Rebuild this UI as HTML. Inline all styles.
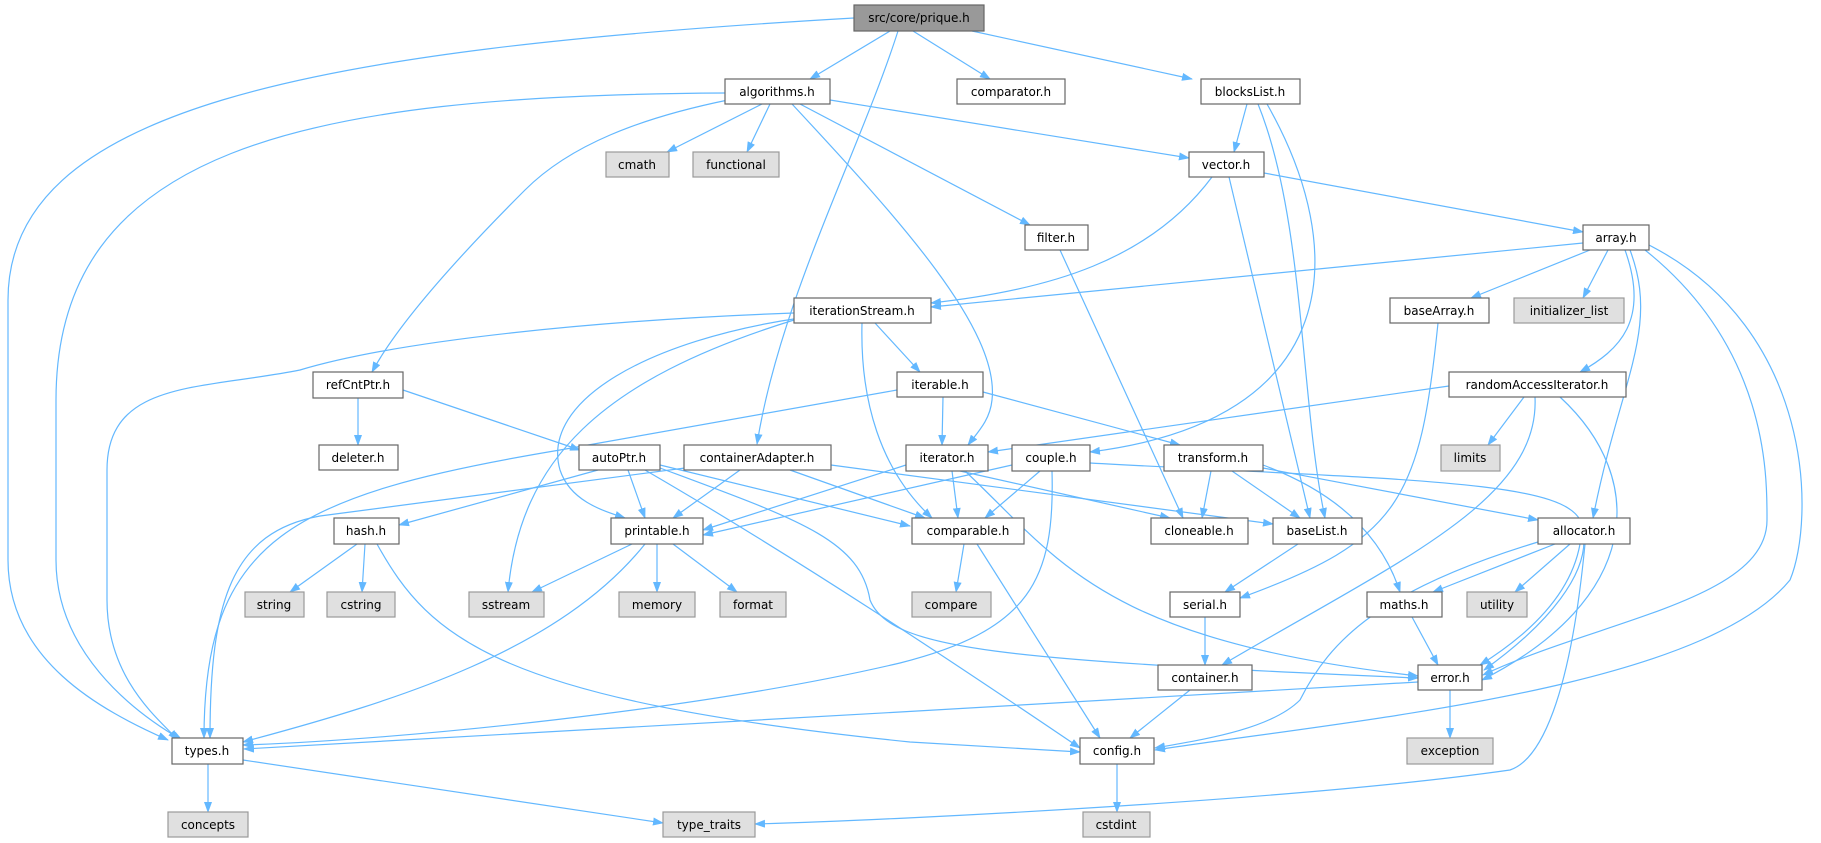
<!DOCTYPE html>
<html><head><meta charset="utf-8"><style>
html,body{margin:0;padding:0;background:#fff;}
svg{display:block;}
text{font-family:"DejaVu Sans","Liberation Sans",sans-serif;font-size:12px;fill:#000;text-anchor:middle;}
.e{fill:none;stroke:#63b8ff;stroke-width:1.2;marker-end:url(#a);}
.n rect{fill:#fff;stroke:#666;stroke-width:1.2;}
.g rect{fill:#e0e0e0;stroke:#999;stroke-width:1.2;}
.r rect{fill:#999;stroke:#666;stroke-width:1.2;}
</style></head><body>
<svg width="1821" height="843" viewBox="0 0 1821 843" xmlns="http://www.w3.org/2000/svg">
<defs><marker id="a" markerWidth="11" markerHeight="8" refX="10" refY="4" orient="auto" markerUnits="userSpaceOnUse"><path d="M0,0 L11,4 L0,8 z" fill="#63b8ff"/></marker></defs>
<g>
<path class="e" d="M854,18 C300,50 8,110 8,300 L8,560 C8,660 100,710 168,740"/>
<path class="e" d="M890,31 L810,79"/>
<path class="e" d="M898,31 C860,150 780,300 757,444"/>
<path class="e" d="M913,31 L990,79"/>
<path class="e" d="M972,31 L1192,79"/>
<path class="e" d="M725,93 C300,95 56,150 56,400 L56,560 C56,650 130,710 182,740"/>
<path class="e" d="M728,100 C640,118 570,145 525,190 C465,250 400,320 372,372"/>
<path class="e" d="M762,104 L667,152"/>
<path class="e" d="M770,104 L747,152"/>
<path class="e" d="M800,104 L1030,225"/>
<path class="e" d="M830,100 L1189,158"/>
<path class="e" d="M792,104 C900,220 1000,330 992,400 C990,420 978,432 968,445"/>
<path class="e" d="M1247,104 L1234,152"/>
<path class="e" d="M1258,104 C1305,220 1300,400 1325,518"/>
<path class="e" d="M1267,104 C1350,250 1345,420 1090,452"/>
<path class="e" d="M1212,177 C1150,260 1050,290 931,303"/>
<path class="e" d="M1229,177 L1310,518"/>
<path class="e" d="M1264,173 L1583,232"/>
<path class="e" d="M1060,250 L1183,518"/>
<path class="e" d="M1583,243 L931,307"/>
<path class="e" d="M1590,250 L1471,298"/>
<path class="e" d="M1608,250 L1583,298"/>
<path class="e" d="M1625,250 C1650,320 1620,350 1580,372"/>
<path class="e" d="M1630,250 C1660,330 1620,380 1593,518"/>
<path class="e" d="M1645,250 C1770,350 1767,480 1767,520 C1767,600 1600,620 1483,675"/>
<path class="e" d="M1649,245 C1815,330 1815,520 1790,580 C1700,690 1350,720 1155,750"/>
<path class="e" d="M794,313 C600,320 400,340 300,370 C200,390 107,380 107,470 L107,600 C107,680 160,720 178,740"/>
<path class="e" d="M794,320 C600,380 520,460 508,592"/>
<path class="e" d="M800,318 C650,340 540,400 560,470 C570,500 600,510 625,518"/>
<path class="e" d="M862,323 C860,400 880,470 932,518"/>
<path class="e" d="M875,323 L920,372"/>
<path class="e" d="M358,398 L358,445"/>
<path class="e" d="M403,390 L580,450"/>
<path class="e" d="M943,397 L942,445"/>
<path class="e" d="M983,392 L1180,445"/>
<path class="e" d="M897,390 L560,450 C290,495 204,540 204,738"/>
<path class="e" d="M1449,386 L988,452"/>
<path class="e" d="M1524,397 L1488,445"/>
<path class="e" d="M1535,397 C1540,500 1400,560 1222,665"/>
<path class="e" d="M1560,397 C1650,480 1640,600 1482,680"/>
<path class="e" d="M1438,323 C1420,500 1400,540 1240,598"/>
<path class="e" d="M598,470 L399,525"/>
<path class="e" d="M628,470 L645,518"/>
<path class="e" d="M660,465 L910,526"/>
<path class="e" d="M660,468 C800,520 860,540 870,600 C890,650 1000,660 1418,678"/>
<path class="e" d="M645,470 C800,560 950,660 1080,748"/>
<path class="e" d="M740,470 L673,518"/>
<path class="e" d="M790,470 L925,518"/>
<path class="e" d="M831,465 L1273,524"/>
<path class="e" d="M685,468 L320,516 C232,532 210,600 210,738"/>
<path class="e" d="M906,465 L703,530"/>
<path class="e" d="M952,471 L958,518"/>
<path class="e" d="M960,471 L1170,518"/>
<path class="e" d="M965,471 C1060,560 1100,640 1418,676"/>
<path class="e" d="M1012,465 L703,535"/>
<path class="e" d="M1040,471 L985,518"/>
<path class="e" d="M1052,471 C1055,580 1030,630 900,663 C700,710 400,740 243,745"/>
<path class="e" d="M1090,463 C1400,480 1560,480 1580,520 C1600,570 1540,630 1484,670"/>
<path class="e" d="M1211,471 L1202,518"/>
<path class="e" d="M1232,471 L1300,518"/>
<path class="e" d="M1263,465 C1330,490 1380,530 1400,592"/>
<path class="e" d="M1263,468 L1538,520"/>
<path class="e" d="M357,544 L290,592"/>
<path class="e" d="M365,544 L362,592"/>
<path class="e" d="M377,544 C430,640 500,700 910,742 L1080,752"/>
<path class="e" d="M632,544 L532,592"/>
<path class="e" d="M657,544 L657,592"/>
<path class="e" d="M673,544 L737,592"/>
<path class="e" d="M645,544 C560,650 400,700 243,742"/>
<path class="e" d="M964,544 L956,592"/>
<path class="e" d="M977,544 L1100,738"/>
<path class="e" d="M1298,544 L1225,592"/>
<path class="e" d="M1205,617 L1205,665"/>
<path class="e" d="M1190,690 L1130,738"/>
<path class="e" d="M1555,544 L1433,592"/>
<path class="e" d="M1570,544 L1515,592"/>
<path class="e" d="M1580,544 C1570,600 1520,640 1480,665"/>
<path class="e" d="M1538,542 C1380,590 1330,640 1300,700 C1270,730 1200,740 1155,748"/>
<path class="e" d="M1585,544 C1570,700 1540,760 1510,770 C1300,800 900,820 755,824"/>
<path class="e" d="M1412,617 L1438,665"/>
<path class="e" d="M1418,682 L900,712 C600,730 350,745 244,749"/>
<path class="e" d="M1450,690 L1450,738"/>
<path class="e" d="M1117,764 L1117,812"/>
<path class="e" d="M208,764 L208,812"/>
<path class="e" d="M243,760 L663,823"/>
</g>
<g class="r"><rect x="854" y="5" width="130" height="26"/><text x="919" y="22">src/core/prique.h</text></g>
<g class="n">
<rect x="725" y="79" width="105" height="25"/><text x="777" y="96">algorithms.h</text>
<rect x="957" y="79" width="108" height="25"/><text x="1011" y="96">comparator.h</text>
<rect x="1201" y="79" width="99" height="25"/><text x="1250" y="96">blocksList.h</text>
<rect x="1189" y="152" width="75" height="25"/><text x="1226" y="169">vector.h</text>
<rect x="1025" y="225" width="63" height="25"/><text x="1056" y="242">filter.h</text>
<rect x="1583" y="225" width="66" height="25"/><text x="1616" y="242">array.h</text>
<rect x="794" y="298" width="137" height="25"/><text x="862" y="315">iterationStream.h</text>
<rect x="1390" y="298" width="99" height="25"/><text x="1439" y="315">baseArray.h</text>
<rect x="313" y="372" width="90" height="26"/><text x="358" y="389">refCntPtr.h</text>
<rect x="897" y="372" width="86" height="25"/><text x="940" y="389">iterable.h</text>
<rect x="1449" y="372" width="177" height="25"/><text x="1537" y="389">randomAccessIterator.h</text>
<rect x="319" y="445" width="79" height="25"/><text x="358" y="462">deleter.h</text>
<rect x="579" y="445" width="81" height="25"/><text x="619" y="462">autoPtr.h</text>
<rect x="684" y="445" width="147" height="25"/><text x="757" y="462">containerAdapter.h</text>
<rect x="906" y="445" width="82" height="26"/><text x="947" y="462">iterator.h</text>
<rect x="1012" y="445" width="78" height="26"/><text x="1051" y="462">couple.h</text>
<rect x="1164" y="445" width="99" height="26"/><text x="1213" y="462">transform.h</text>
<rect x="334" y="518" width="65" height="26"/><text x="366" y="535">hash.h</text>
<rect x="611" y="518" width="92" height="26"/><text x="657" y="535">printable.h</text>
<rect x="912" y="518" width="112" height="26"/><text x="968" y="535">comparable.h</text>
<rect x="1151" y="518" width="97" height="26"/><text x="1199" y="535">cloneable.h</text>
<rect x="1273" y="518" width="89" height="26"/><text x="1317" y="535">baseList.h</text>
<rect x="1538" y="518" width="92" height="26"/><text x="1584" y="535">allocator.h</text>
<rect x="1170" y="592" width="70" height="25"/><text x="1205" y="609">serial.h</text>
<rect x="1367" y="592" width="75" height="25"/><text x="1404" y="609">maths.h</text>
<rect x="1158" y="665" width="94" height="25"/><text x="1205" y="682">container.h</text>
<rect x="1418" y="665" width="64" height="25"/><text x="1450" y="682">error.h</text>
<rect x="172" y="738" width="71" height="26"/><text x="207" y="755">types.h</text>
<rect x="1080" y="738" width="74" height="26"/><text x="1117" y="755">config.h</text>
</g>
<g class="g">
<rect x="606" y="152" width="63" height="25"/><text x="637" y="169">cmath</text>
<rect x="693" y="152" width="86" height="25"/><text x="736" y="169">functional</text>
<rect x="1514" y="298" width="110" height="25"/><text x="1569" y="315">initializer_list</text>
<rect x="1441" y="445" width="59" height="26"/><text x="1470" y="462">limits</text>
<rect x="245" y="592" width="59" height="25"/><text x="274" y="609">string</text>
<rect x="327" y="592" width="68" height="25"/><text x="361" y="609">cstring</text>
<rect x="469" y="592" width="75" height="25"/><text x="506" y="609">sstream</text>
<rect x="619" y="592" width="76" height="25"/><text x="657" y="609">memory</text>
<rect x="720" y="592" width="66" height="25"/><text x="753" y="609">format</text>
<rect x="912" y="592" width="79" height="25"/><text x="951" y="609">compare</text>
<rect x="1467" y="592" width="60" height="25"/><text x="1497" y="609">utility</text>
<rect x="1407" y="738" width="86" height="26"/><text x="1450" y="755">exception</text>
<rect x="168" y="812" width="80" height="25"/><text x="208" y="829">concepts</text>
<rect x="663" y="812" width="92" height="25"/><text x="709" y="829">type_traits</text>
<rect x="1083" y="812" width="67" height="25"/><text x="1116" y="829">cstdint</text>
</g>
</svg>
</body></html>
